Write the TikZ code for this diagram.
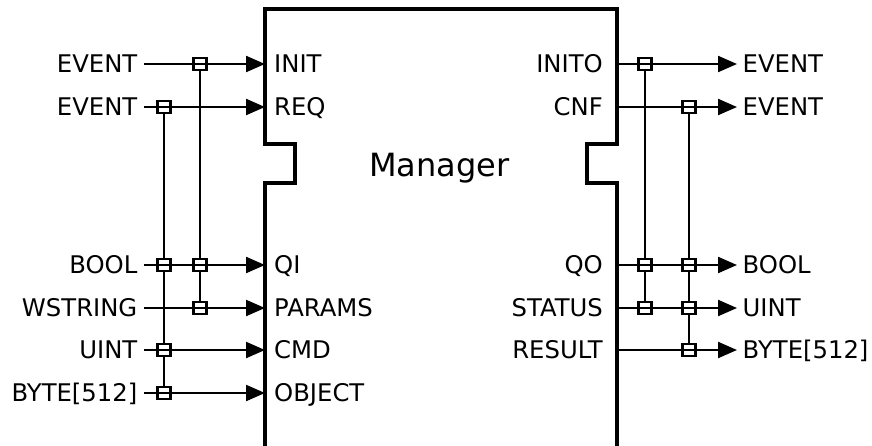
\documentclass[tikz,border=0pt]{standalone}
\usepackage{fontspec}
\setmainfont{DejaVu Sans}
\usetikzlibrary{arrows.meta,backgrounds}
\begin{document}
\begin{tikzpicture}[x=1pt,y=-1pt,
  lbl/.style={font=\fontsize{24.3}{24.3}\selectfont, inner ysep=0pt, text height=17.5pt, text depth=0pt},
  typeL/.style={lbl, anchor=east, inner xsep=6.5pt},
  typeR/.style={lbl, anchor=west, inner xsep=5.5pt},
  portL/.style={lbl, anchor=west, inner xsep=9pt},
  portR/.style={lbl, anchor=east, inner xsep=14pt},
  conn/.style={line width=2.2pt},
  arr/.style={conn, -{Triangle[length=19pt,width=16pt]}},
  vline/.style={line width=1.4pt},
  sq/.style={draw, fill=white, line width=2.2pt, minimum width=13pt, minimum height=12pt, inner sep=0pt},
  fb/.style={line width=3.5pt}]
\useasboundingbox (0,0) rectangle (872,445);

% function block outline
\draw[fb] (265,450) -- (265,183) -- (295,183) -- (295,144) -- (265,144) -- (265,9)
  -- (617,9) -- (617,144) -- (587,144) -- (587,183) -- (617,183) -- (617,450);
\node[font=\fontsize{32}{32}\selectfont, anchor=base, inner sep=0pt] (name) at (439.5,176.5) {Manager};

% left side
\node[typeL] (tINIT) at (144,64) {EVENT};
\node[typeL] (tREQ) at (144,107) {EVENT};
\node[typeL] (tQI) at (144,265) {BOOL};
\node[typeL] (tPARAMS) at (144,308) {WSTRING};
\node[typeL] (tCMD) at (144,350) {UINT};
\node[typeL] (tOBJECT) at (144,393) {BYTE[512]};

\node[portL] (INIT) at (265,64) {INIT};
\node[portL] (REQ) at (265,107) {REQ};
\node[portL] (QI) at (265,265) {QI};
\node[portL] (PARAMS) at (265,308) {PARAMS};
\node[portL] (CMD) at (265,350) {CMD};
\node[portL] (OBJECT) at (265,393) {OBJECT};

% right side
\node[portR] (INITO) at (617,64) {INITO};
\node[portR] (CNF) at (617,107) {CNF};
\node[portR] (QO) at (617,265) {QO};
\node[portR] (STATUS) at (617,308) {STATUS};
\node[portR] (RESULT) at (617,350) {RESULT};

\node[typeR] (tINITO) at (737,64) {EVENT};
\node[typeR] (tCNF) at (737,107) {EVENT};
\node[typeR] (tQO) at (737,265) {BOOL};
\node[typeR] (tSTATUS) at (737,308) {UINT};
\node[typeR] (tRESULT) at (737,350) {BYTE[512]};

% with-association squares
\node[sq] (wREQ) at (164,107) {};
\node[sq] (wQIa) at (164,265) {};
\node[sq] (wCMD) at (164,350) {};
\node[sq] (wOBJECT) at (164,393) {};
\node[sq] (wINIT) at (200,64) {};
\node[sq] (wQIb) at (200,265) {};
\node[sq] (wPARAMS) at (200,308) {};

\node[sq] (wINITO) at (645,64) {};
\node[sq] (wQOa) at (645,265) {};
\node[sq] (wSTATUSa) at (645,308) {};
\node[sq] (wCNF) at (689,107) {};
\node[sq] (wQOb) at (689,265) {};
\node[sq] (wSTATUSb) at (689,308) {};
\node[sq] (wRESULT) at (689,350) {};

\begin{scope}[on background layer]
  \draw[vline] (wREQ.center) -- (wOBJECT.center);
  \draw[vline] (wINIT.center) -- (wPARAMS.center);
  \draw[vline] (wINITO.center) -- (wSTATUSa.center);
  \draw[vline] (wCNF.center) -- (wRESULT.center);
\end{scope}

% connectors
\draw[arr] (tINIT.east) -- (INIT.west);
\draw[arr] (tREQ.east) -- (REQ.west);
\draw[arr] (tQI.east) -- (QI.west);
\draw[arr] (tPARAMS.east) -- (PARAMS.west);
\draw[arr] (tCMD.east) -- (CMD.west);
\draw[arr] (tOBJECT.east) -- (OBJECT.west);

\draw[arr] (INITO.east) -- (tINITO.west);
\draw[arr] (CNF.east) -- (tCNF.west);
\draw[arr] (QO.east) -- (tQO.west);
\draw[arr] (STATUS.east) -- (tSTATUS.west);
\draw[arr] (RESULT.east) -- (tRESULT.west);
\end{tikzpicture}
\end{document}
